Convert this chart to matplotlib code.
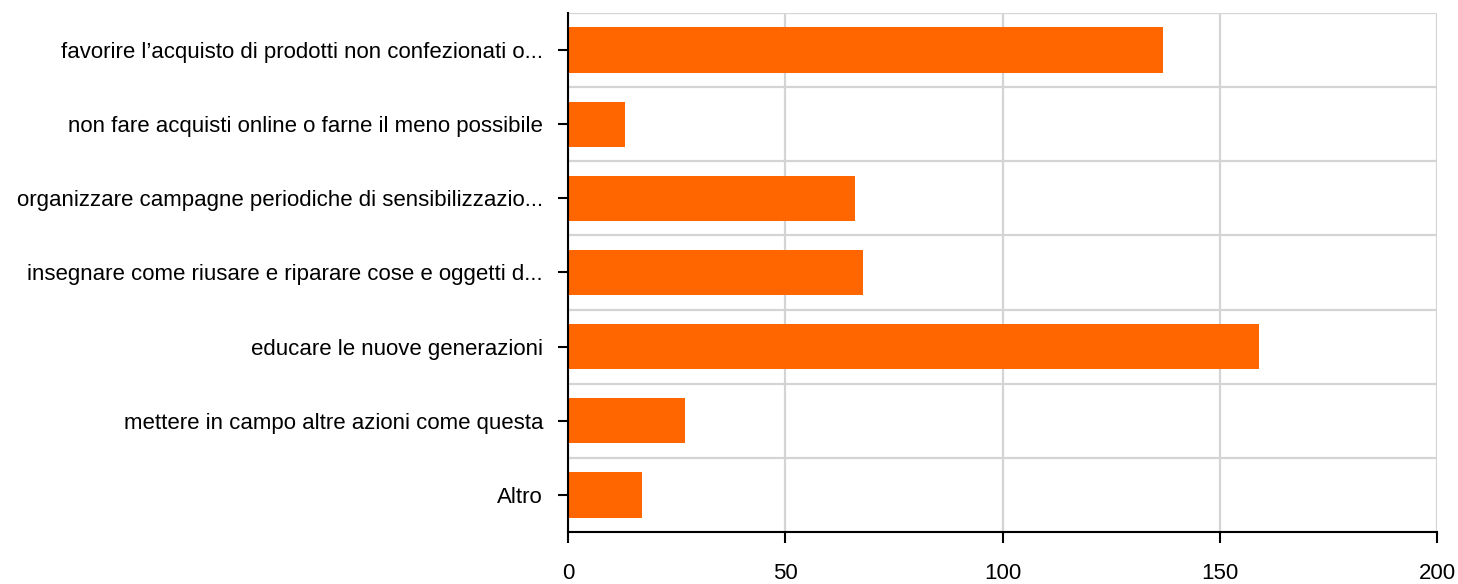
import matplotlib
matplotlib.use("Agg")
import matplotlib.pyplot as plt
import numpy as np

plt.rcParams['font.family'] = ['Liberation Sans', 'DejaVu Sans']

# ------------------------------------------------
## Data
# ------------------------------------------------
categories = [
    "favorire l\u2019acquisto di prodotti non confezionati o...",
    "non fare acquisti online o farne il meno possibile",
    "organizzare campagne periodiche di sensibilizzazio...",
    "insegnare come riusare e riparare cose e oggetti d...",
    "educare le nuove generazioni",
    "mettere in campo altre azioni come questa",
    "Altro",
]
values = [137, 13, 66, 68, 159, 27, 17]
x_ticks = [0, 50, 100, 150, 200]

# ------------------------------------------------
## Plot
# ------------------------------------------------
fig = plt.figure(figsize=(14.58, 5.84), dpi=100)
ax = fig.add_axes([0.3896, 0.089, 0.5960, 0.8888])

y = np.arange(len(categories))
ax.barh(y, values, height=0.61, color="#ff6600", zorder=3)

ax.set_xlim(0, 200)
ax.set_ylim(len(categories) - 0.5, -0.5)
ax.set_xticks(x_ticks)
ax.set_yticks(y)
ax.set_yticklabels(categories)

# grid lines between categories
ax.set_yticks(np.arange(-0.5, len(categories), 1), minor=True)
ax.tick_params(axis="y", which="minor", length=0)
ax.grid(True, which="minor", axis="y", color="#d4d4d4", lw=1.6, zorder=0)
ax.grid(True, which="major", axis="x", color="#d4d4d4", lw=1.6, zorder=0)

for side in ["top", "right"]:
    ax.spines[side].set_visible(False)
for side in ["left", "bottom"]:
    ax.spines[side].set_linewidth(1.5)
    ax.spines[side].set_zorder(4)

ax.tick_params(axis="y", which="major", length=7, width=1.5, pad=11, labelsize=16)
ax.tick_params(axis="x", which="major", length=8, width=1.5, pad=14, labelsize=16)

fig.savefig("out.png", dpi=100)
